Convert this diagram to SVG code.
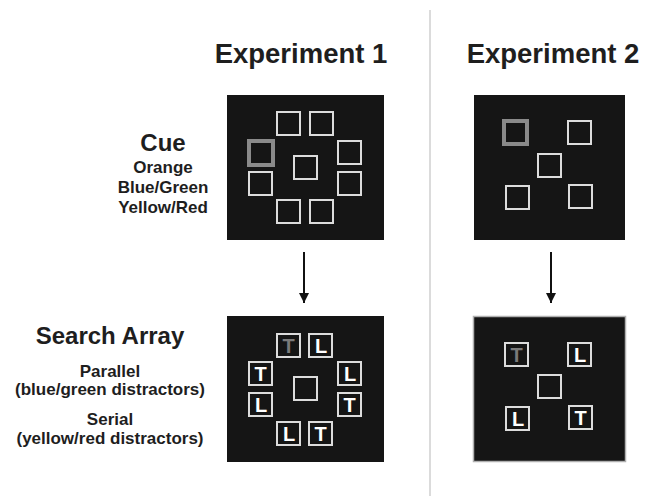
<svg xmlns="http://www.w3.org/2000/svg" width="650" height="496" viewBox="0 0 650 496">
<defs>
<style>
.t{font-family:"Liberation Sans",Arial,sans-serif;font-weight:bold;fill:#1e1e1e;text-anchor:middle}
.panel{fill:#151515}
.bx{fill:none;stroke:#dcdcdc;stroke-width:2}
.cue{fill:none;stroke:#8a8a8a;stroke-width:4}
.lt{font-family:"Liberation Sans",Arial,sans-serif;font-weight:bold;font-size:20px;fill:#ffffff;text-anchor:middle}
.gl{fill:#7a7a7a}
.arr{stroke:#111;stroke-width:2;fill:none}
</style>
<marker id="ah" viewBox="0 0 10 10" refX="10" refY="5" markerWidth="5" markerHeight="5" orient="auto" markerUnits="strokeWidth">
<path d="M0,0 L10,5 L0,10 z" fill="#111"/>
</marker>
</defs>
<rect width="650" height="496" fill="#ffffff"/>
<line x1="430" y1="10" x2="430" y2="496" stroke="#cfcfcf" stroke-width="1.5"/>
<g id="titles">
<text class="t" x="301" y="63" font-size="27.5">Experiment 1</text>
<text class="t" x="553" y="63" font-size="27.5">Experiment 2</text>
</g>
<g id="cue-label">
<text class="t" x="163" y="151" font-size="24">Cue</text>
<text class="t" x="163" y="173" font-size="17">Orange</text>
<text class="t" x="163" y="193" font-size="17">Blue/Green</text>
<text class="t" x="163" y="212.5" font-size="17">Yellow/Red</text>
</g>
<g id="search-label">
<text class="t" x="110" y="344" font-size="24">Search Array</text>
<text class="t" x="110" y="376.5" font-size="17">Parallel</text>
<text class="t" x="110" y="395" font-size="17">(blue/green distractors)</text>
<text class="t" x="110" y="425" font-size="17">Serial</text>
<text class="t" x="110" y="444" font-size="17">(yellow/red distractors)</text>
</g>
<g id="exp1-cue">
<rect class="panel" x="227" y="95" width="157" height="145"/>
<rect class="bx" x="277" y="112" width="23" height="23"/>
<rect class="bx" x="310" y="112" width="23" height="23"/>
<rect class="cue" x="249" y="141" width="24" height="24"/>
<rect class="bx" x="338" y="141" width="23" height="23"/>
<rect class="bx" x="294" y="156" width="23" height="23"/>
<rect class="bx" x="249" y="172" width="23" height="23"/>
<rect class="bx" x="338" y="172" width="23" height="23"/>
<rect class="bx" x="277" y="200" width="23" height="23"/>
<rect class="bx" x="310" y="200" width="23" height="23"/>
</g>
<g id="exp1-search">
<rect class="panel" x="227" y="316" width="157" height="146"/>
<rect class="bx" x="277" y="334" width="23" height="23"/>
<text class="lt gl" x="288.5" y="353">T</text>
<rect class="bx" x="309" y="334" width="23" height="23"/>
<text class="lt" x="321" y="353">L</text>
<rect class="bx" x="249" y="362" width="23" height="23"/>
<text class="lt" x="260.5" y="381">T</text>
<rect class="bx" x="338" y="362" width="23" height="23"/>
<text class="lt" x="350" y="381">L</text>
<rect class="bx" x="294" y="377" width="23" height="23"/>
<rect class="bx" x="249" y="393" width="23" height="23"/>
<text class="lt" x="261" y="412">L</text>
<rect class="bx" x="338" y="393" width="23" height="23"/>
<text class="lt" x="349.5" y="412">T</text>
<rect class="bx" x="277" y="422" width="23" height="23"/>
<text class="lt" x="289" y="441">L</text>
<rect class="bx" x="309" y="422" width="23" height="23"/>
<text class="lt" x="320.5" y="441">T</text>
</g>
<g id="exp2-cue">
<rect class="panel" x="474" y="95" width="151" height="145"/>
<rect class="cue" x="504" y="121" width="23" height="23"/>
<rect class="bx" x="568" y="121" width="23" height="23"/>
<rect class="bx" x="538" y="154" width="23" height="23"/>
<rect class="bx" x="506" y="186" width="23" height="23"/>
<rect class="bx" x="569" y="185" width="23" height="23"/>
</g>
<g id="exp2-search">
<rect class="panel" x="473.5" y="316.5" width="152" height="145" stroke="#b0b0b0" stroke-width="1.5"/>
<rect class="bx" x="505" y="343" width="23" height="23"/>
<text class="lt gl" x="516.5" y="362">T</text>
<rect class="bx" x="568" y="343" width="23" height="23"/>
<text class="lt" x="580" y="362">L</text>
<rect class="bx" x="538" y="375" width="23" height="23"/>
<rect class="bx" x="506" y="407" width="23" height="23"/>
<text class="lt" x="518" y="426">L</text>
<rect class="bx" x="569" y="406" width="23" height="23"/>
<text class="lt" x="580.5" y="425">T</text>
</g>
<g id="connectors">
<line class="arr" x1="304" y1="252" x2="304" y2="303" marker-end="url(#ah)"/>
<line class="arr" x1="551" y1="252" x2="551" y2="303" marker-end="url(#ah)"/>
</g>
</svg>
